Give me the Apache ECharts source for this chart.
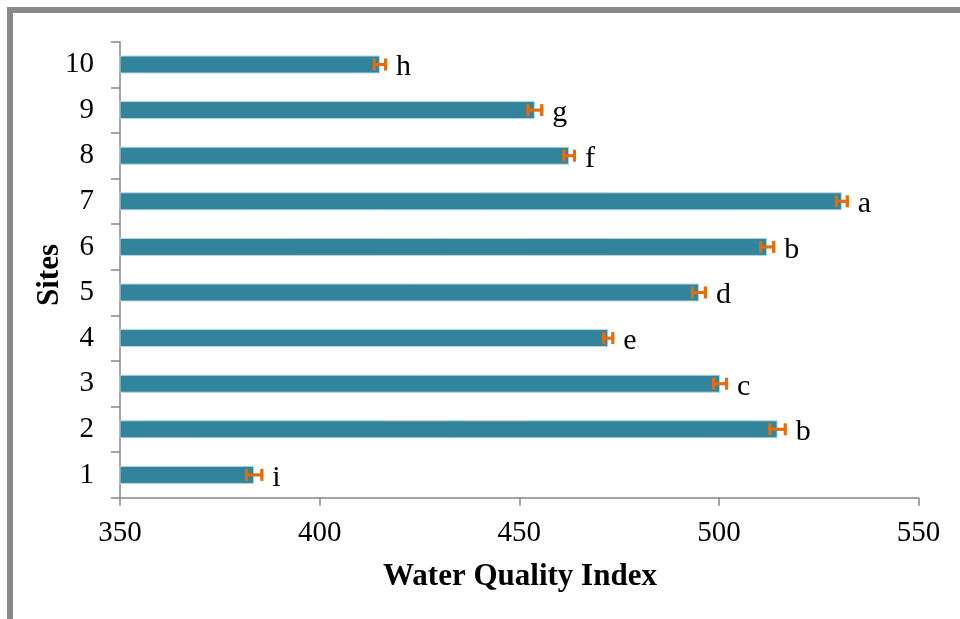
<!DOCTYPE html>
<html>
<head>
<meta charset="utf-8">
<script src="https://cdn.jsdelivr.net/npm/echarts@6/dist/echarts.min.js"></script>
<style>
html,body{margin:0;padding:0;background:#fff;}
#frame{position:absolute;left:0;top:0;width:960px;height:619px;}
#border{position:absolute;left:7px;top:7px;width:960px;height:619px;border-left:6px solid #898989;border-top:6px solid #898989;box-sizing:border-box;}
#chart{position:absolute;left:0;top:0;width:960px;height:619px;}
</style>
</head>
<body>
<div id="frame">
<div id="border"></div>
<div id="chart"></div>
</div>
<script>
const sites = ['1','2','3','4','5','6','7','8','9','10'];
const wqi = [383.6, 514.7, 500.3, 472.3, 495.0, 512.1, 530.8, 462.5, 453.9, 415.1];
const errs = [2.3, 2.3, 2.0, 1.5, 2.0, 2.0, 1.75, 1.7, 2.1, 1.8];
const letters = ['i','b','c','e','d','b','a','f','g','h'];
const xTicks = [350, 400, 450, 500, 550];
const xTitle = 'Water Quality Index';
const yTitle = 'Sites';

const chart = echarts.init(document.getElementById('chart'), null, {renderer:'canvas'});
const serif = 'Liberation Serif, Times New Roman, serif';
const errData = sites.map((s,i)=>[i, wqi[i], errs[i]]);

chart.setOption({
  backgroundColor: 'transparent',
  animation: false,
  grid: {left:120, right:41.5, top:41.7, bottom:121.3, containLabel:false},
  graphic: [
    {type:'text', x:520, y:577, style:{text:xTitle, fill:'#000', fontFamily:serif, fontSize:31, fontWeight:'bold', align:'center', verticalAlign:'middle'}},
    {type:'text', x:50, y:275, rotation:Math.PI/2, style:{text:yTitle, fill:'#000', fontFamily:serif, fontSize:31, fontWeight:'bold', align:'center', verticalAlign:'middle'}}
  ],
  xAxis: {
    type:'value', min:xTicks[0], max:xTicks[xTicks.length-1], interval:50,
    axisLine:{show:true, lineStyle:{color:'#868686', width:1.5}},
    axisTick:{show:true, length:8, lineStyle:{color:'#868686', width:1.5}},
    splitLine:{show:false},
    axisLabel:{color:'#000', fontFamily:serif, fontSize:29, margin:21}
  },
  yAxis: {
    type:'category', data:sites,
    axisLine:{show:true, lineStyle:{color:'#868686', width:1.5}},
    axisTick:{show:true, length:9, lineStyle:{color:'#868686', width:1.5}},
    axisLabel:{color:'#000', fontFamily:serif, fontSize:29, margin:26}
  },
  series: [
    {
      type:'bar', data:wqi, barWidth:18,
      itemStyle:{color:'#31849B', borderColor:'#B7D5DF', borderWidth:1},
      z:2
    },
    {
      type:'custom', data:errData, z:5,
      encode:{x:1, y:0},
      renderItem:function(params, api){
        const cat = api.value(0), v = api.value(1), e = api.value(2);
        const lo = api.coord([v-e, cat]);
        const hi = api.coord([v+e, cat]);
        const y = lo[1];
        const capH = 6;
        const st = {stroke:'#E46C0A', lineWidth:3.2};
        return {
          type:'group',
          children:[
            {type:'line', shape:{x1:lo[0], y1:y, x2:hi[0], y2:y}, style:st},
            {type:'line', shape:{x1:lo[0]+1.5, y1:y-capH, x2:lo[0]+1.5, y2:y+capH}, style:st},
            {type:'line', shape:{x1:hi[0]-1.5, y1:y-capH, x2:hi[0]-1.5, y2:y+capH}, style:st},
            {type:'text', style:{text:letters[params.dataIndex], x:hi[0]+9, y:y+3,
              fill:'#000', fontSize:30, fontFamily:serif, align:'left', verticalAlign:'middle'}}
          ]
        };
      }
    }
  ]
});
</script>
</body>
</html>
